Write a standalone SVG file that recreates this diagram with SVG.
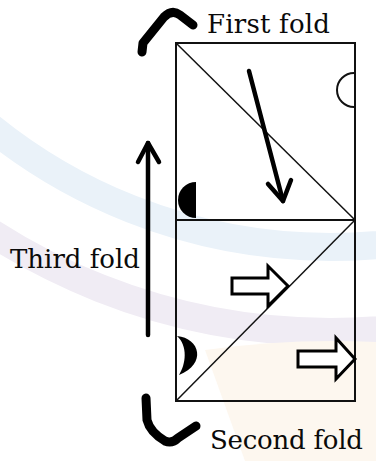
<svg xmlns="http://www.w3.org/2000/svg" width="376" height="461" viewBox="0 0 376 461">
<style>
.lbl{font-family:"DejaVu Serif","Liberation Serif",serif;font-size:26px;fill:#0a0a0a}
.edge{stroke:#111;stroke-width:2;fill:none}
.thin{stroke:#111;stroke-width:1.5;fill:none}
.bold{stroke:#000;stroke-width:9;fill:none;stroke-linecap:round;stroke-linejoin:round}
.arr{stroke:#000;stroke-width:4.5;fill:none;stroke-linecap:round;stroke-linejoin:round}
.hollow{stroke:#000;stroke-width:3;fill:#fff;stroke-linejoin:miter}
</style>
<rect width="376" height="461" fill="#fff"/>
<g id="watermark" fill="none">
<circle cx="330" cy="-293" r="540" stroke="#eaf2f9" stroke-width="28"/>
<circle cx="330" cy="-293" r="625" stroke="#f0ecf4" stroke-width="28"/>
<path d="M205,350 Q290,338 376,342 L376,461 L245,461 Z" fill="#fdf7ef"/>
</g>
<g id="sheet">
<rect x="176" y="43" width="179" height="358" class="edge"/>
<line x1="176" y1="220" x2="355" y2="220" class="edge"/>
<line x1="176" y1="43" x2="355" y2="220" class="thin"/>
<line x1="176" y1="401" x2="355" y2="220" class="thin"/>
</g>
<g id="marks">
<path d="M354,73 A17,17 0 0 0 354,107" class="edge"/>
<path d="M196,182 A18,18 0 0 0 196,218 Z" fill="#000"/>
<path d="M177,336 C200,338 207,364 179,375 C186,364 188,346 177,336 Z" fill="#000"/>
<polygon points="232,278 268,278 268,266 288,286 268,306 268,294 232,294" class="hollow"/>
<polygon points="298,351 336,351 336,338 355,359 336,379 336,367 298,367" class="hollow"/>
</g>
<g id="connectors">
<path d="M142,52 L143,43 L164,17 Q172,9 180,15 L193,25" class="bold"/>
<path d="M146,398 L147,420 Q150,432 165,441 Q172,444 178,438 L196,426" class="bold"/>
<path d="M249,71 L283,201" class="arr"/>
<path d="M268,184 L283,201 L291,180" class="arr"/>
<path d="M148,335 L148,143" class="arr" stroke-linecap="butt"/>
<path d="M138,162 L148,143 L159,162" class="arr"/>
</g>
<g id="label-first"><text x="207" y="33" class="lbl" textLength="123">First fold</text></g>
<g id="label-third"><text x="10" y="268" class="lbl" textLength="130">Third fold</text></g>
<g id="label-second"><text x="210" y="449" class="lbl" textLength="153">Second fold</text></g>
</svg>
